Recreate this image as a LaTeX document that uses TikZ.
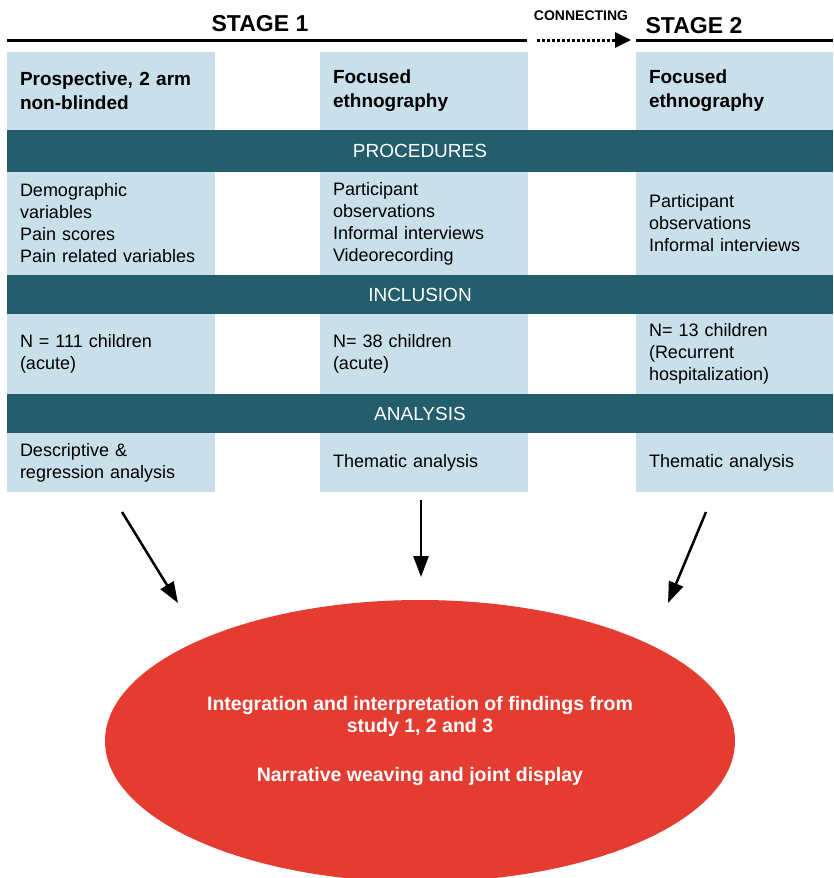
\documentclass[tikz,border=0pt]{standalone}
\usepackage{fontspec}
\setmainfont{Liberation Sans}
\usetikzlibrary{shapes.geometric,arrows.meta}

\definecolor{cellblue}{HTML}{C9DFEA}
\definecolor{bandteal}{HTML}{245E6C}
\definecolor{mixred}{HTML}{E53C32}

\begin{document}
\begin{tikzpicture}[x=1pt, y=-1pt,
    cell/.style={fill=cellblue, anchor=north west, inner xsep=13pt,
                 inner ysep=0pt, outer sep=0pt, align=left,
                 minimum height=#1, font=\fontsize{18}{22}\selectfont},
    narrow/.style={text width=171pt},
    wide/.style={text width=182pt},
    head/.style={font=\bfseries\fontsize{19}{24}\selectfont},
    band/.style={fill=bandteal, text=white, anchor=north west,
                 minimum width=826pt, minimum height=#1, inner sep=0pt,
                 outer sep=0pt, font=\fontsize{19}{22}\selectfont},
    flow/.style={line width=2.5pt, -{Triangle[length=21pt,width=15pt]}}]

  % Keep the page the size of the reference
  \useasboundingbox (0,0) rectangle (833,878);
  \clip (0,0) rectangle (833,878);

  % Stage titles and the time line above the columns
  \node[anchor=base, font=\bfseries\fontsize{23}{26}\selectfont] (stageone) at (260,31) {STAGE 1};
  \node[anchor=base, font=\bfseries\fontsize{23}{26}\selectfont] (stagetwo) at (694,33) {STAGE 2};
  \node[anchor=base, font=\bfseries\fontsize{14}{16}\selectfont] (connect) at (581,20) {CONNECTING};

  \coordinate (lineA) at (7,40);
  \coordinate (lineB) at (527,40);
  \coordinate (lineC) at (636,40);
  \coordinate (lineD) at (833,40);
  \coordinate (dotA) at (537,40);
  \coordinate (dotB) at (631,40);
  \draw[line width=3pt] (lineA) -- (lineB);
  \draw[line width=3pt] (lineC) -- (lineD);
  \draw[line width=3pt, dotted, -{Triangle[length=16pt,width=15pt]}] (dotA) -- (dotB);

  % Design of each study
  \node[cell=78pt, wide, head] (h1) at (7,52) {Prospective, 2 arm\\non-blinded};
  \node[cell=78pt, wide, head] (h2) at (320,52) {Focused\\ethnography};
  \node[cell=78pt, narrow, head] (h3) at (636,52) {Focused\\ethnography};

  % Procedures
  \node[band=42pt] (procedures) at (7,130) {PROCEDURES};
  \node[cell=103pt, wide] (p1) at (7,172) {Demographic\\variables\\Pain scores\\Pain related variables};
  \node[cell=103pt, wide] (p2) at (320,172) {Participant\\observations\\Informal interviews\\Videorecording};
  \node[cell=103pt, narrow] (p3) at (636,172) {Participant\\observations\\Informal interviews};

  % Inclusion
  \node[band=39pt] (inclusion) at (7,275) {INCLUSION};
  \node[cell=80pt, wide] (i1) at (7,314) {N = 111 children\\(acute)};
  \node[cell=80pt, wide] (i2) at (320,314) {N= 38 children\\(acute)};
  \node[cell=80pt, narrow] (i3) at (636,314) {N= 13 children\\(Recurrent\\hospitalization)};

  % Analysis
  \node[band=39pt] (analysis) at (7,394) {ANALYSIS};
  \node[cell=59pt, wide] (a1) at (7,433) {Descriptive \&\\regression analysis};
  \node[cell=59pt, wide] (a2) at (320,433) {Thematic analysis};
  \node[cell=59pt, narrow] (a3) at (636,433) {Thematic analysis};

  % Integration of the three studies
  \node[ellipse, fill=mixred, minimum width=630pt, minimum height=282pt,
        inner sep=0pt, text=white, align=center,
        font=\bfseries\fontsize{19.5}{22}\selectfont] (integration) at (420,741)
    {Integration and interpretation of findings from\\study 1, 2 and 3\\[27pt]
     Narrative weaving and joint display};

  % Arrows into the ellipse
  \coordinate (s1) at (122,512);
  \coordinate (t1) at (178,603);
  \coordinate (s2) at (421,500);
  \coordinate (t2) at (421,577);
  \coordinate (s3) at (706,512);
  \coordinate (t3) at (668,603);
  \draw[flow] (s1) -- (t1);
  \draw[flow] (s2) -- (t2);
  \draw[flow] (s3) -- (t3);
\end{tikzpicture}
\end{document}
